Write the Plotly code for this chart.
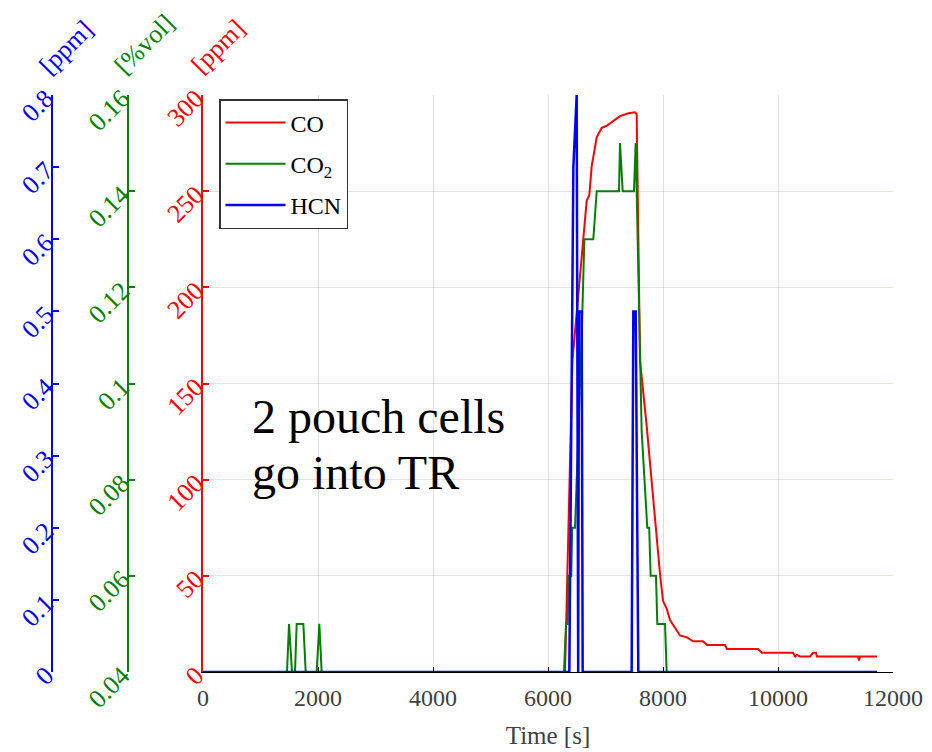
import plotly.graph_objects as go

# ---- data ----
co_t = [0, 6296, 6425, 6557, 6615, 6673, 6719, 6760, 6847, 6934, 7020, 7107, 7252, 7397, 7513, 7542,
        7600, 7716, 7832, 7948, 8000, 8064, 8122, 8238, 8296, 8417, 8522, 8696, 8765, 9078, 9113,
        9652, 9722, 10261, 10300, 10330, 10383, 10557, 10609, 10660, 10678, 11391, 11409, 11426, 11722]
co_v = [0, 0, 162, 204, 226, 245, 248, 263, 278, 283, 284, 286, 289, 290.5, 291, 290,
        162, 128, 89, 51, 37, 33, 27, 22, 19, 18, 16, 16, 14, 14, 12,
        12, 10, 10, 8, 9, 8, 8, 10, 10, 8, 8, 6, 8, 8]

co2_t = [0, 1461, 1496, 1548, 1600, 1629, 1745, 1786, 1977, 2023, 2064,
         6278, 6313, 6340, 6360, 6405, 6420, 6470, 6586, 6632, 6788, 6847,
         7235, 7252, 7299, 7495, 7525, 7629, 7727, 7760, 7785, 7878, 7901, 8035, 8064, 11722]
co2_v = [0.04, 0.04, 0.05, 0.04, 0.04, 0.05, 0.05, 0.04, 0.04, 0.05, 0.04,
         0.04, 0.05, 0.05, 0.06, 0.06, 0.07, 0.07, 0.11, 0.13, 0.13, 0.14,
         0.14, 0.15, 0.14, 0.14, 0.15, 0.09, 0.07, 0.07, 0.06, 0.06, 0.05, 0.05, 0.04, 0.04]

hcn_t = [0, 6371, 6441, 6499, 6525, 6539, 6586, 6603, 7455, 7484, 7525, 7571, 11722]
hcn_v = [0, 0, 0.7, 0.8, 0, 0.5, 0.5, 0, 0, 0.5, 0.5, 0, 0]

x_ticks = [0, 2000, 4000, 6000, 8000, 10000, 12000]
x_labels = ["0", "2000", "4000", "6000", "8000", "10000", "12000"]
co_ticks = [0, 50, 100, 150, 200, 250, 300]
co2_ticks = [0.04, 0.06, 0.08, 0.1, 0.12, 0.14, 0.16]
co2_labels = ["0.04", "0.06", "0.08", "0.1", "0.12", "0.14", "0.16"]
hcn_ticks = [0, 0.1, 0.2, 0.3, 0.4, 0.5, 0.6, 0.7, 0.8]
hcn_labels = ["0", "0.1", "0.2", "0.3", "0.4", "0.5", "0.6", "0.7", "0.8"]

RED = "#ff0000"
GREEN = "#008000"
BLUE = "#0000ff"
FONT = "Liberation Serif"

OFF = 8  # page body margin
W, H = 932 - OFF, 752 - OFF
ML, MR, MT, MB = 0, 39, 95 - OFF, 80
PW = W - ML - MR
PH = H - MT - MB


def px(x):
    return (x - OFF - ML) / PW


def py(y):
    return (752 - MB - y) / PH


fig = go.Figure()
fig.add_trace(go.Scatter(x=co_t, y=co_v, mode="lines", name="CO", line=dict(color=RED, width=2),
                         yaxis="y", legendgroup="a"))
fig.add_trace(go.Scatter(x=co2_t, y=co2_v, mode="lines", name="CO<sub>2</sub>",
                         line=dict(color=GREEN, width=2), yaxis="y2", legendgroup="b"))
fig.add_trace(go.Scatter(x=hcn_t, y=hcn_v, mode="lines", name="HCN", line=dict(color=BLUE, width=2.5),
                         yaxis="y3", legendgroup="c"))

common_y = dict(showline=True, linewidth=1.5, ticks="inside", ticklen=6, tickwidth=1.5,
                tickangle=-45, automargin=False, zeroline=False)

fig.update_layout(
    width=W, height=H,
    margin=dict(l=ML, r=MR, t=MT, b=MB),
    plot_bgcolor="white", paper_bgcolor="white",
    font=dict(family=FONT, size=24, color="black"),
    xaxis=dict(domain=[px(203), 1], range=[0, 12000], tickvals=x_ticks, ticktext=x_labels,
               showgrid=True, gridcolor="rgba(0,0,0,0.12)", gridwidth=1,
               showline=True, linecolor="black", linewidth=1,
               ticks="inside", ticklen=5, tickcolor="black",
               tickfont=dict(family=FONT, size=24, color="#404040"),
               ticklabelstandoff=4,
               title=dict(text="Time [s]", font=dict(family=FONT, size=25, color="#404040"), standoff=16),
               zeroline=False, automargin=False),
    yaxis=dict(range=[0, 300], tickvals=co_ticks, linecolor=RED, tickcolor=RED,
               tickfont=dict(family=FONT, size=26, color=RED),
               showgrid=True, gridcolor="rgba(255,0,0,0.15)", gridwidth=1,
               anchor="x", side="left", **common_y),
    yaxis2=dict(range=[0.04, 0.16], tickvals=co2_ticks, ticktext=co2_labels, linecolor=GREEN, tickcolor=GREEN,
                tickfont=dict(family=FONT, size=26, color=GREEN), showgrid=False,
                overlaying="y", anchor="free", position=px(128), side="left", **common_y),
    yaxis3=dict(range=[0, 0.8], tickvals=hcn_ticks, ticktext=hcn_labels, linecolor=BLUE, tickcolor=BLUE,
                tickfont=dict(family=FONT, size=26, color=BLUE), showgrid=False,
                overlaying="y", anchor="free", position=px(52), side="left", **common_y),
    legend=dict(x=px(219), y=py(99), xanchor="left", yanchor="top",
                bgcolor="white", bordercolor="#333333", borderwidth=1.5,
                font=dict(family=FONT, size=24, color="black"),
                tracegroupgap=7, itemwidth=60),
    showlegend=True,
)

annots = [
    dict(text="[ppm]", x=px(66), y=py(47), color=BLUE),
    dict(text="[%vol]", x=px(144), y=py(44), color=GREEN),
    dict(text="[ppm]", x=px(218), y=py(46), color=RED),
]
for a in annots:
    fig.add_annotation(text=a["text"], x=a["x"], y=a["y"], xref="paper", yref="paper",
                       xanchor="center", yanchor="middle", textangle=-45, showarrow=False,
                       font=dict(family=FONT, size=26, color=a["color"]))

fig.add_annotation(text="2 pouch cells", x=px(250), y=py(416), xref="paper", yref="paper",
                   xanchor="left", yanchor="middle", showarrow=False,
                   font=dict(family=FONT, size=48, color="black"))
fig.add_annotation(text="go into TR", x=px(250), y=py(472), xref="paper", yref="paper",
                   xanchor="left", yanchor="middle", showarrow=False,
                   font=dict(family=FONT, size=48, color="black"))

fig.write_html("out.html")
